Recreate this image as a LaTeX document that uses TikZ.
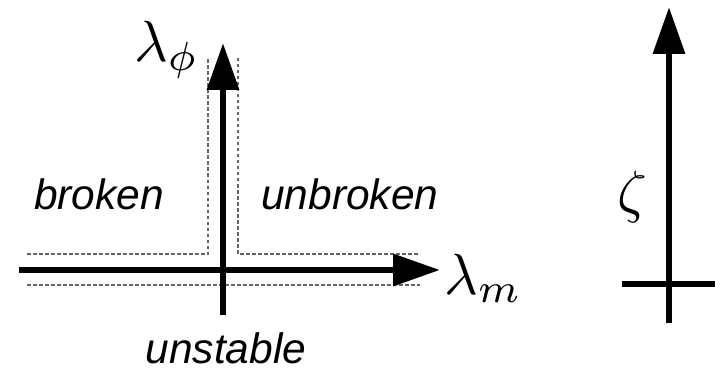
\documentclass[tikz,border=0pt]{standalone}
\usepackage{fontspec}
\setsansfont{Liberation Sans}
\usetikzlibrary{arrows.meta}

\begin{document}
\begin{tikzpicture}[x=1pt,y=-1pt,
  axis/.style={line width=6.5pt,-{Triangle[length=47pt,width=31pt]}},
  bar/.style={line width=6.5pt},
  region/.style={draw=black!60,line width=1.3pt,dash pattern=on 3.5pt off 2.5pt},
  sym/.style={inner sep=0pt,scale=5.8},
  phase/.style={inner sep=0pt,font=\fontsize{42.5}{45}\selectfont\sffamily\itshape}
]
\useasboundingbox (0,0) rectangle (722,374);
% phase diagram
\coordinate (mlo) at (19,270);
\coordinate (mhi) at (440,270);
\coordinate (plo) at (223,315);
\coordinate (phi) at (223,43);
\draw[region] (27,254) -- (208,254) -- (208,58);
\draw[region] (238,58) -- (238,254) -- (420,254);
\draw[region] (27,285) -- (420,285);
\draw[axis] (mlo) -- (mhi);
\draw[axis] (plo) -- (phi);
\node[sym,anchor=base west] (lphi) at (133,62) {$\lambda_\phi$};
\node[sym,anchor=base west] (lm) at (443,294) {$\lambda_m$};
\node[phase,anchor=base west] (broken) at (34,209) {broken};
\node[phase,anchor=base west] (unbroken) at (261,209) {unbroken};
\node[phase,anchor=base] (unstable) at (226,363) {unstable};
% zeta axis
\coordinate (zlo) at (669,323);
\coordinate (zhi) at (669,7);
\coordinate (bl) at (622,284);
\coordinate (br) at (715,284);
\draw[axis] (zlo) -- (zhi);
\draw[bar] (bl) -- (br);
\node[sym,anchor=base west] (zeta) at (616,211) {$\zeta$};
\end{tikzpicture}
\end{document}
